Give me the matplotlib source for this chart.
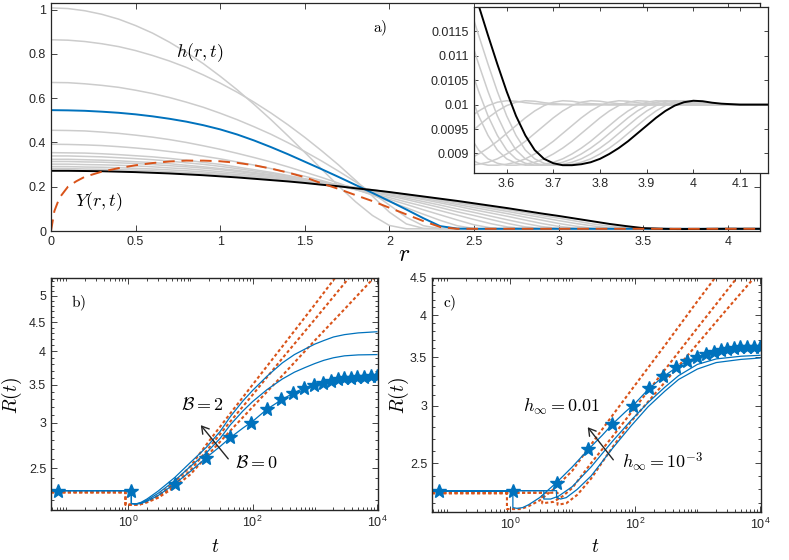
"""Recreate the three-panel spreading figure: profiles h(r,t), Y(r,t) and front radius R(t)."""

import matplotlib

matplotlib.use("Agg")
import matplotlib.pyplot as plt
from matplotlib.ticker import (FixedLocator, FormatStrFormatter, LogFormatterSciNotation,
                               LogLocator, MultipleLocator, NullFormatter)

FIG_W, FIG_H = 789, 560
GRAY = "#cccccc"
BLUE = "#0072bd"
ORANGE = "#d95319"
INK = "#262626"
DOTTED = (0, (1.5, 1.2))

# ---- panel a: film profiles on a common radial grid ----
r_grid = [0.0, 0.1, 0.2, 0.3, 0.4, 0.5, 0.6, 0.7, 0.8, 0.9,
          1.0, 1.1, 1.2, 1.3, 1.4, 1.5, 1.6, 1.7, 1.8, 1.9,
          2.0, 2.1, 2.2, 2.3, 2.4, 2.5, 2.6, 2.7, 2.8, 2.9,
          3.0, 3.1, 3.2, 3.3, 3.4, 3.5, 3.6, 3.7, 3.8, 3.9,
          4.0, 4.1, 4.2]

h_t1 = [1.008, 1.005, 0.995, 0.979, 0.957, 0.928, 0.894, 0.853, 0.807, 0.756,
        0.699, 0.638, 0.572, 0.503, 0.430, 0.355, 0.279, 0.203, 0.132, 0.070,
        0.025, 0.010, 0.010, 0.010, 0.010, 0.010, 0.010, 0.010, 0.010, 0.010,
        0.010, 0.010, 0.010, 0.010, 0.010, 0.010, 0.010, 0.010, 0.010, 0.010,
        0.010, 0.010, 0.010]
h_t2 = [0.864, 0.862, 0.856, 0.846, 0.833, 0.815, 0.793, 0.768, 0.739, 0.705,
        0.668, 0.627, 0.582, 0.533, 0.480, 0.423, 0.362, 0.298, 0.229, 0.157,
        0.085, 0.032, 0.012, 0.010, 0.010, 0.010, 0.010, 0.010, 0.010, 0.010,
        0.010, 0.010, 0.010, 0.010, 0.010, 0.010, 0.010, 0.010, 0.010, 0.010,
        0.010, 0.010, 0.010]
h_t3 = [0.671, 0.670, 0.665, 0.658, 0.649, 0.636, 0.621, 0.603, 0.582, 0.559,
        0.532, 0.503, 0.471, 0.437, 0.399, 0.359, 0.316, 0.270, 0.222, 0.171,
        0.117, 0.062, 0.024, 0.011, 0.010, 0.010, 0.010, 0.010, 0.010, 0.010,
        0.010, 0.010, 0.010, 0.010, 0.010, 0.010, 0.010, 0.010, 0.010, 0.010,
        0.010, 0.010, 0.010]
h_g4 = [0.455, 0.454, 0.452, 0.447, 0.441, 0.433, 0.424, 0.413, 0.400, 0.385,
        0.369, 0.351, 0.332, 0.312, 0.290, 0.266, 0.242, 0.216, 0.189, 0.162,
        0.133, 0.105, 0.076, 0.048, 0.024, 0.011, 0.010, 0.010, 0.010, 0.010,
        0.010, 0.010, 0.010, 0.010, 0.010, 0.010, 0.010, 0.010, 0.010, 0.010,
        0.010, 0.010, 0.010]
h_g5 = [0.392, 0.391, 0.389, 0.386, 0.381, 0.375, 0.368, 0.359, 0.350, 0.338,
        0.326, 0.312, 0.298, 0.282, 0.265, 0.247, 0.228, 0.207, 0.187, 0.165,
        0.143, 0.120, 0.096, 0.073, 0.050, 0.028, 0.014, 0.010, 0.010, 0.010,
        0.010, 0.010, 0.010, 0.010, 0.010, 0.010, 0.010, 0.010, 0.010, 0.010,
        0.010, 0.010, 0.010]
h_g6 = [0.354, 0.353, 0.352, 0.349, 0.345, 0.340, 0.335, 0.328, 0.320, 0.310,
        0.301, 0.289, 0.277, 0.265, 0.251, 0.236, 0.220, 0.204, 0.187, 0.169,
        0.151, 0.131, 0.112, 0.092, 0.072, 0.052, 0.033, 0.018, 0.011, 0.010,
        0.010, 0.010, 0.010, 0.010, 0.010, 0.010, 0.010, 0.010, 0.010, 0.010,
        0.010, 0.010, 0.010]
h_g7 = [0.339, 0.339, 0.337, 0.335, 0.331, 0.327, 0.322, 0.316, 0.308, 0.301,
        0.292, 0.282, 0.271, 0.260, 0.248, 0.235, 0.221, 0.206, 0.191, 0.175,
        0.159, 0.142, 0.124, 0.106, 0.087, 0.070, 0.052, 0.034, 0.019, 0.011,
        0.010, 0.010, 0.010, 0.010, 0.010, 0.010, 0.010, 0.010, 0.010, 0.010,
        0.010, 0.010, 0.010]
h_g8 = [0.324, 0.324, 0.322, 0.320, 0.317, 0.313, 0.309, 0.304, 0.297, 0.290,
        0.282, 0.274, 0.264, 0.254, 0.243, 0.232, 0.220, 0.207, 0.193, 0.179,
        0.164, 0.149, 0.133, 0.117, 0.100, 0.084, 0.067, 0.050, 0.034, 0.020,
        0.012, 0.010, 0.010, 0.010, 0.010, 0.010, 0.010, 0.010, 0.010, 0.010,
        0.010, 0.010, 0.010]
h_g9 = [0.314, 0.314, 0.312, 0.311, 0.308, 0.305, 0.300, 0.295, 0.290, 0.284,
        0.277, 0.269, 0.260, 0.251, 0.241, 0.231, 0.220, 0.208, 0.196, 0.183,
        0.170, 0.156, 0.142, 0.127, 0.112, 0.096, 0.081, 0.066, 0.050, 0.034,
        0.021, 0.013, 0.010, 0.010, 0.010, 0.010, 0.010, 0.010, 0.010, 0.010,
        0.010, 0.010, 0.010]
h_g10 = [0.302, 0.302, 0.300, 0.299, 0.297, 0.294, 0.290, 0.285, 0.281, 0.275,
         0.268, 0.262, 0.254, 0.246, 0.237, 0.228, 0.218, 0.207, 0.196, 0.185,
         0.172, 0.160, 0.147, 0.134, 0.120, 0.106, 0.092, 0.078, 0.063, 0.049,
         0.034, 0.022, 0.013, 0.010, 0.010, 0.010, 0.010, 0.010, 0.010, 0.010,
         0.010, 0.010, 0.010]
h_g11 = [0.291, 0.291, 0.289, 0.288, 0.286, 0.283, 0.280, 0.276, 0.272, 0.267,
         0.261, 0.255, 0.248, 0.241, 0.233, 0.224, 0.215, 0.206, 0.196, 0.186,
         0.175, 0.164, 0.152, 0.140, 0.127, 0.115, 0.101, 0.088, 0.074, 0.061,
         0.047, 0.034, 0.023, 0.014, 0.010, 0.010, 0.010, 0.010, 0.010, 0.010,
         0.010, 0.010, 0.010]
h_g12 = [0.282, 0.282, 0.280, 0.279, 0.277, 0.275, 0.272, 0.268, 0.264, 0.260,
         0.255, 0.249, 0.243, 0.236, 0.229, 0.221, 0.213, 0.204, 0.195, 0.186,
         0.175, 0.165, 0.154, 0.143, 0.131, 0.120, 0.108, 0.096, 0.083, 0.070,
         0.058, 0.045, 0.032, 0.022, 0.014, 0.010, 0.010, 0.010, 0.010, 0.010,
         0.010, 0.010, 0.010]
h_blue = [0.546, 0.545, 0.543, 0.539, 0.534, 0.527, 0.518, 0.507, 0.494, 0.478,
          0.459, 0.436, 0.409, 0.379, 0.347, 0.313, 0.279, 0.244, 0.208, 0.172,
          0.135, 0.097, 0.058, 0.022, 0.011, 0.010, 0.010, 0.010, 0.010, 0.010,
          0.010, 0.010, 0.010, 0.010, 0.010, 0.010, 0.010, 0.010, 0.010, 0.010,
          0.010, 0.010, 0.010]
h_black = [0.272, 0.272, 0.271, 0.270, 0.268, 0.266, 0.263, 0.260, 0.256, 0.252,
           0.247, 0.242, 0.236, 0.230, 0.224, 0.217, 0.209, 0.202, 0.193, 0.185,
           0.176, 0.166, 0.156, 0.146, 0.136, 0.125, 0.114, 0.103, 0.091, 0.079,
           0.068, 0.056, 0.044, 0.032, 0.022, 0.013, 0.0103, 0.0088, 0.0089, 0.0096,
           0.0101, 0.0100, 0.0100]
gray_profiles = [h_t1, h_t2, h_t3, h_g4, h_g5, h_g6, h_g7, h_g8, h_g9, h_g10, h_g11, h_g12]

y_r = [0.0, 0.02, 0.05, 0.1, 0.15, 0.2, 0.3, 0.4, 0.5, 0.6, 0.7, 0.8, 0.9,
       1.0, 1.1, 1.2, 1.3, 1.4, 1.5, 1.6, 1.7, 1.8, 1.9, 2.0, 2.1, 2.2, 2.3, 2.4,
       3.0, 3.6, 4.2]
y_val = [0.0, 0.09, 0.15, 0.2, 0.225, 0.245, 0.268, 0.284, 0.297, 0.307, 0.314, 0.318, 0.318,
         0.315, 0.308, 0.297, 0.282, 0.264, 0.243, 0.215, 0.19, 0.162, 0.135, 0.105, 0.075,
         0.045, 0.018, 0.01, 0.01, 0.01, 0.01]

# inset: precursor-film dip near the contact line
inset_r = [3.52, 3.54, 3.56, 3.58, 3.60, 3.62, 3.64, 3.66, 3.68, 3.70,
           3.72, 3.74, 3.76, 3.78, 3.80, 3.82, 3.84, 3.86, 3.88, 3.90,
           3.92, 3.94, 3.96, 3.98, 4.00, 4.02, 4.04, 4.06, 4.08, 4.10,
           4.12, 4.14, 4.16]
inset_black = [0.01265, 0.01203, 0.01142, 0.01083, 0.01027, 0.00977, 0.00937, 0.00907, 0.00889, 0.00880,
               0.00876, 0.00876, 0.00878, 0.00882, 0.00889, 0.00899, 0.00911, 0.00925, 0.00941, 0.00957,
               0.00973, 0.00987, 0.00998, 0.01005, 0.01008, 0.01007, 0.01004, 0.01002, 0.01001, 0.01000,
               0.01000, 0.01000, 0.01000]
inset_gray = [
    [0.01203, 0.01142, 0.01083, 0.01027, 0.00977, 0.00937, 0.00907, 0.00889, 0.00880, 0.00876,
     0.00876, 0.00878, 0.00882, 0.00889, 0.00899, 0.00911, 0.00925, 0.00941, 0.00957, 0.00973,
     0.00987, 0.00998, 0.01005, 0.01008, 0.01007, 0.01004, 0.01002, 0.01001, 0.01000, 0.01000,
     0.01000, 0.01000, 0.01000],
    [0.01142, 0.01083, 0.01027, 0.00977, 0.00937, 0.00907, 0.00889, 0.00880, 0.00876, 0.00876,
     0.00878, 0.00882, 0.00889, 0.00899, 0.00911, 0.00925, 0.00941, 0.00957, 0.00973, 0.00987,
     0.00998, 0.01005, 0.01008, 0.01007, 0.01004, 0.01002, 0.01001, 0.01000, 0.01000, 0.01000,
     0.01000, 0.01000, 0.01000],
    [0.01083, 0.01027, 0.00977, 0.00937, 0.00907, 0.00889, 0.00880, 0.00876, 0.00876, 0.00878,
     0.00882, 0.00889, 0.00899, 0.00911, 0.00925, 0.00941, 0.00957, 0.00973, 0.00987, 0.00998,
     0.01005, 0.01008, 0.01007, 0.01004, 0.01002, 0.01001, 0.01000, 0.01000, 0.01000, 0.01000,
     0.01000, 0.01000, 0.01000],
    [0.01027, 0.00977, 0.00937, 0.00907, 0.00889, 0.00880, 0.00876, 0.00876, 0.00878, 0.00882,
     0.00889, 0.00899, 0.00911, 0.00925, 0.00941, 0.00957, 0.00973, 0.00987, 0.00998, 0.01005,
     0.01008, 0.01007, 0.01004, 0.01002, 0.01001, 0.01000, 0.01000, 0.01000, 0.01000, 0.01000,
     0.01000, 0.01000, 0.01000],
    [0.00937, 0.00907, 0.00889, 0.00880, 0.00876, 0.00876, 0.00878, 0.00882, 0.00889, 0.00899,
     0.00911, 0.00925, 0.00941, 0.00957, 0.00973, 0.00987, 0.00998, 0.01005, 0.01008, 0.01007,
     0.01004, 0.01002, 0.01001, 0.01000, 0.01000, 0.01000, 0.01000, 0.01000, 0.01000, 0.01000,
     0.01000, 0.01000, 0.01000],
    [0.00889, 0.00880, 0.00876, 0.00876, 0.00878, 0.00882, 0.00889, 0.00899, 0.00911, 0.00925,
     0.00941, 0.00957, 0.00973, 0.00987, 0.00998, 0.01005, 0.01008, 0.01007, 0.01004, 0.01002,
     0.01001, 0.01000, 0.01000, 0.01000, 0.01000, 0.01000, 0.01000, 0.01000, 0.01000, 0.01000,
     0.01000, 0.01000, 0.01000],
    [0.00876, 0.00878, 0.00882, 0.00889, 0.00899, 0.00911, 0.00925, 0.00941, 0.00957, 0.00973,
     0.00987, 0.00998, 0.01005, 0.01008, 0.01007, 0.01004, 0.01002, 0.01001, 0.01000, 0.01000,
     0.01000, 0.01000, 0.01000, 0.01000, 0.01000, 0.01000, 0.01000, 0.01000, 0.01000, 0.01000,
     0.01000, 0.01000, 0.01000],
    [0.00889, 0.00899, 0.00911, 0.00925, 0.00941, 0.00957, 0.00973, 0.00987, 0.00998, 0.01005,
     0.01008, 0.01007, 0.01004, 0.01002, 0.01001, 0.01000, 0.01000, 0.01000, 0.01000, 0.01000,
     0.01000, 0.01000, 0.01000, 0.01000, 0.01000, 0.01000, 0.01000, 0.01000, 0.01000, 0.01000,
     0.01000, 0.01000, 0.01000],
    [0.00941, 0.00957, 0.00973, 0.00987, 0.00998, 0.01005, 0.01008, 0.01007, 0.01004, 0.01002,
     0.01001, 0.01000, 0.01000, 0.01000, 0.01000, 0.01000, 0.01000, 0.01000, 0.01000, 0.01000,
     0.01000, 0.01000, 0.01000, 0.01000, 0.01000, 0.01000, 0.01000, 0.01000, 0.01000, 0.01000,
     0.01000, 0.01000, 0.01000],
    [0.00973, 0.00987, 0.00998, 0.01005, 0.01008, 0.01007, 0.01004, 0.01002, 0.01001, 0.01000,
     0.01000, 0.01000, 0.01000, 0.01000, 0.01000, 0.01000, 0.01000, 0.01000, 0.01000, 0.01000,
     0.01000, 0.01000, 0.01000, 0.01000, 0.01000, 0.01000, 0.01000, 0.01000, 0.01000, 0.01000,
     0.01000, 0.01000, 0.01000],
]

# ---- panels b and c: front radius R(t) ----
t_sim = [0.057, 0.5, 1.12, 1.12, 1.3, 1.6, 2.0, 3.0, 5.6, 10, 18, 30, 44, 70, 100,
         170, 300, 470, 700, 1000, 1400, 2000, 3000, 5000, 10000]
R_base = [2.285, 2.285, 2.285, 2.17, 2.165, 2.17, 2.19, 2.24, 2.35, 2.47, 2.61, 2.73, 2.83, 2.94,
          3.02, 3.17, 3.30, 3.39, 3.46, 3.50, 3.53, 3.56, 3.59, 3.61, 3.62]
R_B1 = [2.285, 2.285, 2.285, 2.17, 2.165, 2.175, 2.20, 2.26, 2.38, 2.52, 2.66, 2.82, 2.98, 3.15,
        3.27, 3.43, 3.58, 3.68, 3.75, 3.81, 3.86, 3.90, 3.93, 3.945, 3.95]
R_B2 = [2.285, 2.285, 2.285, 2.17, 2.165, 2.18, 2.21, 2.28, 2.41, 2.56, 2.72, 2.90, 3.08, 3.28,
        3.42, 3.62, 3.82, 3.95, 4.04, 4.12, 4.18, 4.24, 4.28, 4.31, 4.33]

t_star = [0.075, 1.12, 5.6, 17.8, 43, 95, 168, 285, 450, 680, 975, 1380, 1850, 2400, 3000,
          3800, 4800, 6200, 8000, 10000]
R_star = [2.285, 2.285, 2.35, 2.61, 2.83, 3.0, 3.17, 3.3, 3.39, 3.46, 3.5, 3.53, 3.555, 3.575,
          3.59, 3.6, 3.61, 3.615, 3.62, 3.62]

t_pow = [0.057, 0.9, 0.9, 1.5, 2.0, 3.0, 5.0, 10, 18, 44, 100, 300, 1000, 3000, 10000]
pow_base = [2.27, 2.27, 2.16, 2.16, 2.18, 2.22, 2.30, 2.44, 2.62, 2.91, 3.20, 3.63, 4.18, 4.74, 5.45]
pow_B1 = [2.27, 2.27, 2.16, 2.16, 2.185, 2.23, 2.32, 2.48, 2.68, 3.02, 3.36, 3.89, 4.55, 5.26, 6.17]
pow_B2 = [2.27, 2.27, 2.16, 2.16, 2.19, 2.24, 2.34, 2.52, 2.75, 3.12, 3.50, 4.08, 4.83, 5.65, 6.60]

t_pow_hmid = [0.057, 3.3, 3.3, 5.0, 7.0, 10, 20, 44, 86, 300, 1000, 3000, 10000]
pow_hmid = [2.275, 2.275, 2.20, 2.21, 2.25, 2.31, 2.50, 2.72, 2.93, 3.36, 3.84, 4.33, 4.94]
t_pow_hlow = [0.057, 5.8, 5.8, 8.0, 12, 20, 44, 86, 300, 1000, 3000, 10000]
pow_hlow = [2.275, 2.275, 2.19, 2.20, 2.26, 2.38, 2.63, 2.85, 3.23, 3.65, 4.08, 4.60]

t_hmid = [0.057, 3.5, 3.5, 4.5, 6.0, 10, 20, 44, 86, 163, 300, 500, 1000, 2000, 5000, 10000]
R_hmid = [2.29, 2.29, 2.23, 2.23, 2.25, 2.32, 2.47, 2.68, 2.86, 3.03, 3.18, 3.30, 3.42, 3.48,
          3.51, 3.52]
t_hlow = [0.057, 5.6, 5.6, 6.5, 8.0, 12, 20, 44, 86, 163, 300, 500, 1000, 2000, 5000, 10000]
R_hlow = [2.29, 2.29, 2.24, 2.23, 2.24, 2.30, 2.40, 2.62, 2.81, 2.99, 3.14, 3.26, 3.37, 3.44,
          3.475, 3.49]

a_xticks = [0, 0.5, 1, 1.5, 2, 2.5, 3, 3.5, 4]
a_yticks = [0, 0.2, 0.4, 0.6, 0.8, 1]
inset_xticks = [3.6, 3.7, 3.8, 3.9, 4.0, 4.1]
inset_yticks = [0.009, 0.0095, 0.01, 0.0105, 0.011, 0.0115]
b_yticks = [2.5, 3, 3.5, 4, 4.5, 5]
c_yticks = [2.5, 3, 3.5, 4, 4.5]
t_ticks = [1, 1e2, 1e4]


def fig_xy(x, y):
    return x / FIG_W, 1 - y / FIG_H


def axes_box(left, top, right, bottom):
    return [left / FIG_W, 1 - bottom / FIG_H, (right - left) / FIG_W, (bottom - top) / FIG_H]


def style_axes(ax, lw, major=4, minor=2):
    for spine in ax.spines.values():
        spine.set_color(INK)
        spine.set_linewidth(lw)
    ax.tick_params(which="both", direction="in", top=True, right=True, colors=INK,
                   labelsize=9, width=0.6)
    ax.tick_params(which="major", length=major)
    ax.tick_params(which="minor", length=minor)


def label(x, y, text, size, **kwargs):
    plt.gcf().text(*fig_xy(x, y), text, fontsize=size, math_fontfamily="cm",
                   ha="center", va="center", color="black", **kwargs)


def arrow(fig, start, end):
    fig.add_artist(matplotlib.patches.FancyArrowPatch(
        fig_xy(*start), fig_xy(*end), transform=fig.transFigure, arrowstyle="->,head_length=5,head_width=3",
        color=INK, lw=1.0))


def setup_time_axes(ax, ylim, yticks):
    ax.set_xscale("log")
    ax.set_yscale("log")
    ax.set_xlim(0.057, 1.04e4)
    ax.set_ylim(*ylim)
    ax.xaxis.set_major_locator(FixedLocator(t_ticks))
    ax.xaxis.set_major_formatter(LogFormatterSciNotation())
    ax.xaxis.set_minor_locator(LogLocator(base=10, subs=[1, 2, 3, 4, 5, 6, 7, 8, 9], numticks=40))
    ax.xaxis.set_minor_formatter(NullFormatter())
    ax.yaxis.set_major_locator(FixedLocator(yticks))
    ax.yaxis.set_major_formatter(FormatStrFormatter("%g"))
    ax.yaxis.set_minor_locator(MultipleLocator(0.1))
    ax.yaxis.set_minor_formatter(NullFormatter())
    style_axes(ax, 1.0, major=4, minor=2)


def main():
    plt.rcParams["font.family"] = ["Liberation Sans", "DejaVu Sans"]
    fig = plt.figure(figsize=(FIG_W / 100, FIG_H / 100), dpi=100)

    # panel a
    ax_a = fig.add_axes(axes_box(51, 3, 760, 231))
    for profile in gray_profiles:
        ax_a.plot(r_grid, profile, color=GRAY, lw=1.1)
    ax_a.plot(r_grid, h_blue, color=BLUE, lw=1.4)
    ax_a.plot(r_grid, h_black, color="black", lw=1.4)
    ax_a.plot(y_r, y_val, color=ORANGE, lw=1.4, ls=(0, (6, 3.5)))
    ax_a.set_xlim(0, 4.19)
    ax_a.set_ylim(0, 1.03)
    ax_a.xaxis.set_major_locator(FixedLocator(a_xticks))
    ax_a.yaxis.set_major_locator(FixedLocator(a_yticks))
    ax_a.xaxis.set_major_formatter(FormatStrFormatter("%g"))
    ax_a.yaxis.set_major_formatter(FormatStrFormatter("%g"))
    style_axes(ax_a, 0.9)

    ax_in = fig.add_axes(axes_box(474, 7, 768, 173))
    for profile in inset_gray:
        ax_in.plot(inset_r, profile, color=GRAY, lw=1.1)
    ax_in.plot(inset_r, inset_black, color="black", lw=1.4)
    ax_in.set_xlim(3.53, 4.16)
    ax_in.set_ylim(0.0086, 0.0120)
    ax_in.xaxis.set_major_locator(FixedLocator(inset_xticks))
    ax_in.yaxis.set_major_locator(FixedLocator(inset_yticks))
    ax_in.xaxis.set_major_formatter(FormatStrFormatter("%g"))
    ax_in.yaxis.set_major_formatter(FormatStrFormatter("%g"))
    style_axes(ax_in, 0.9, major=3)

    label(200, 53, r"$h(r,t)$", 13)
    label(99, 202, r"$Y(r,t)$", 13)
    label(380, 28, r"$\mathrm{a)}$", 11)
    label(404, 255, r"$r$", 17)

    # panel b
    ax_b = fig.add_axes(axes_box(51, 278, 378, 510))
    for R_pow in (pow_base, pow_B1, pow_B2):
        ax_b.plot(t_pow, R_pow, color=ORANGE, lw=1.5, ls=DOTTED)
    for R_sim in (R_base, R_B1, R_B2):
        ax_b.plot(t_sim, R_sim, color=BLUE, lw=0.9)
    ax_b.plot(t_star, R_star, ls="none", marker="*", ms=10, color=BLUE, mec=BLUE)
    setup_time_axes(ax_b, (2.114, 5.375), b_yticks)

    label(78, 303, r"$\mathrm{b)}$", 11)
    label(202, 405, r"$\mathcal{B}=2$", 13)
    label(256, 463, r"$\mathcal{B}=0$", 13)
    arrow(fig, (230, 461), (199, 423))
    label(12, 395, r"$R(t)$", 14, rotation=90)
    label(215, 547, r"$t$", 14)

    # panel c
    ax_c = fig.add_axes(axes_box(432, 278, 761, 512))
    ax_c.plot(t_pow, pow_base, color=ORANGE, lw=1.5, ls=DOTTED)
    ax_c.plot(t_pow_hmid, pow_hmid, color=ORANGE, lw=1.5, ls=DOTTED)
    ax_c.plot(t_pow_hlow, pow_hlow, color=ORANGE, lw=1.5, ls=DOTTED)
    ax_c.plot(t_sim, R_base, color=BLUE, lw=0.9)
    ax_c.plot(t_hmid, R_hmid, color=BLUE, lw=0.9)
    ax_c.plot(t_hlow, R_hlow, color=BLUE, lw=0.9)
    ax_c.plot(t_star, R_star, ls="none", marker="*", ms=10, color=BLUE, mec=BLUE)
    setup_time_axes(ax_c, (2.14, 4.5), c_yticks)

    label(450, 303, r"$\mathrm{c)}$", 11)
    label(562, 407, r"$h_\infty=0.01$", 13)
    label(662, 462, r"$h_\infty=10^{-3}$", 13)
    arrow(fig, (615, 462), (586, 425))
    label(399, 395, r"$R(t)$", 14, rotation=90)
    label(595, 547, r"$t$", 14)

    fig.savefig("out.png", dpi=100)
    plt.close(fig)


if __name__ == "__main__":
    main()
